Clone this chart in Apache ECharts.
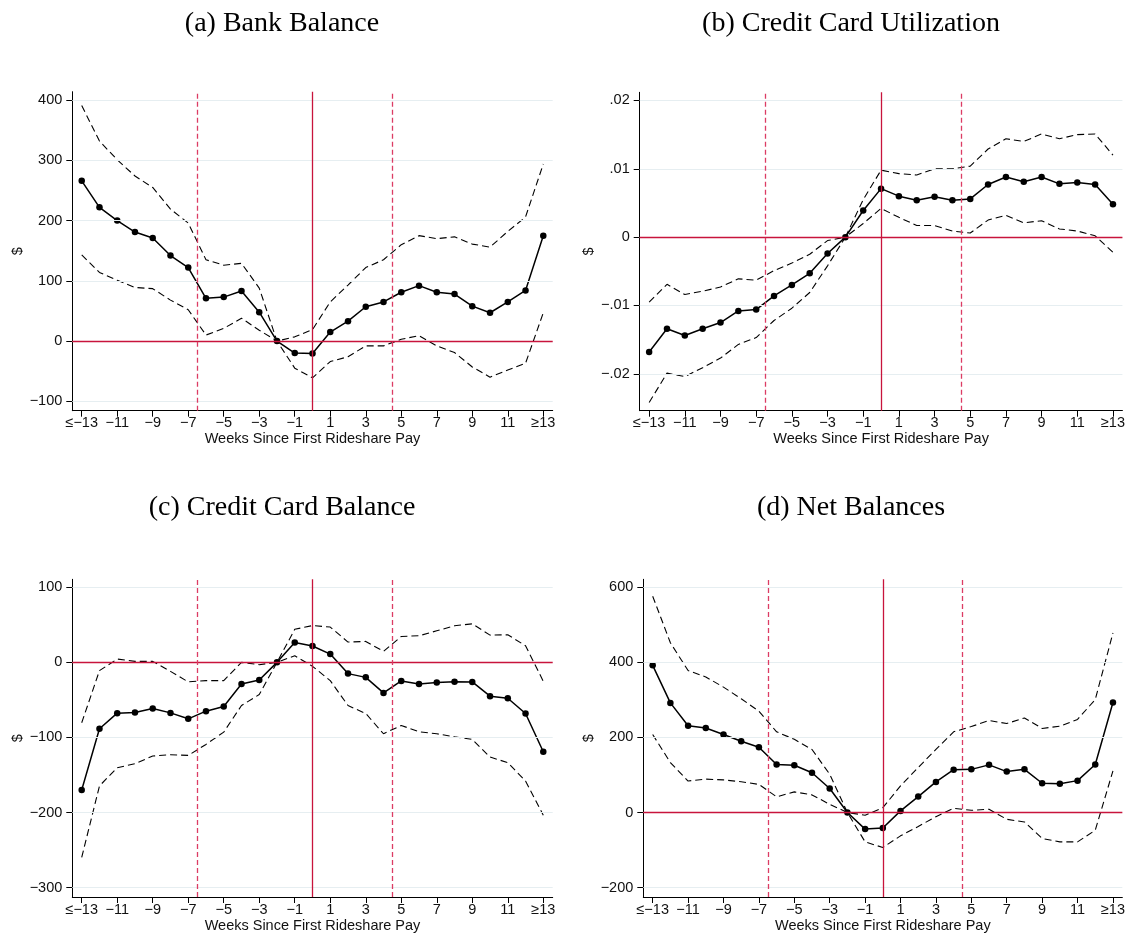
<!DOCTYPE html>
<html><head><meta charset="utf-8">
<script src="https://cdn.jsdelivr.net/npm/echarts@6/dist/echarts.min.js"></script>
<style>html,body{margin:0;padding:0;background:#fff}#c{width:1128px;height:934px}</style>
</head><body><div id="c"></div><script>
// ---- data ----
const weeks = [-13,-12,-11,-10,-9,-8,-7,-6,-5,-4,-3,-2,-1,0,1,2,3,4,5,6,7,8,9,10,11,12,13];
const xTickVals = [-13,-11,-9,-7,-5,-3,-1,1,3,5,7,9,11,13];
const xTickLabels = ['≤−13','−11','−9','−7','−5','−3','−1','1','3','5','7','9','11','≥13'];
const xTitle = 'Weeks Since First Rideshare Pay';
const yTitle = '$';

const titles = ['(a) Bank Balance','(b) Credit Card Utilization','(c) Credit Card Balance','(d) Net Balances'];

// (a) Bank Balance
const bankPoint = [266,222,200,181,171,142,122,71,73,83,48,0,-20,-20.5,15,33,57,65,81,92,81,78,58,47,65,84,175];
const bankUpper = [391,332,301,274,255,219,196,135,126,129,88,0,7,19,65,93,122,135,160,175,170,173,161,156,182,206,294];
const bankLower = [143,114,101,89,87,68,52,10,21,38,18,0,-45,-61,-34,-26,-8,-8,3,9,-8,-19,-43,-60,-48,-37,47];
const bankTicks = [-100,0,100,200,300,400];
const bankTickLabels = ['−100','0','100','200','300','400'];

// (b) Credit Card Utilization
const utilPoint = [-0.0168,-0.0134,-0.0144,-0.0134,-0.0125,-0.0108,-0.0106,-0.0086,-0.0070,-0.0053,-0.0024,0,0.0039,0.0071,0.0060,0.0054,0.0059,0.0054,0.0056,0.0077,0.0088,0.0081,0.0088,0.0078,0.0080,0.0077,0.0048];
const utilUpper = [-0.0095,-0.0069,-0.0084,-0.0079,-0.0073,-0.0061,-0.0063,-0.0049,-0.0038,-0.0025,-0.0005,0,0.0055,0.0098,0.0093,0.0091,0.0100,0.0100,0.0104,0.0129,0.0144,0.0140,0.0151,0.0144,0.0150,0.0151,0.0120];
const utilLower = [-0.0242,-0.0199,-0.0204,-0.0191,-0.0177,-0.0157,-0.0147,-0.0122,-0.0104,-0.0081,-0.0042,0,0.0020,0.0042,0.0029,0.0017,0.0017,0.0009,0.0006,0.0025,0.0032,0.0021,0.0024,0.0012,0.0009,0.0002,-0.0022];
const utilTicks = [-0.02,-0.01,0,0.01,0.02];
const utilTickLabels = ['−.02','−.01','0','.01','.02'];

// (c) Credit Card Balance
const ccPoint = [-170,-88.5,-67.7,-66.8,-61.5,-67.3,-75.2,-65,-58.8,-28.8,-23.5,0,26.5,21.7,11,-15,-20,-40.7,-24.8,-28.8,-27,-25.7,-26.1,-45,-47.8,-68.1,-119];
const ccUpper = [-80.5,-11,4.4,1.3,1.3,-12,-26,-24.3,-24.3,0,-3.1,0,44,49,47,27,27.9,14.6,34.5,35.4,42,48.7,51.3,36.3,36.7,22.1,-25.2];
const ccLower = [-259.7,-164.6,-140.3,-135,-124.8,-123,-123.9,-109.3,-92.9,-57.5,-42.9,0,8.8,-5.3,-24.3,-57.5,-68.1,-95.1,-84,-92.5,-95.1,-99.1,-102.7,-126.1,-133.6,-158,-203.5];
const ccTicks = [-300,-200,-100,0,100];
const ccTickLabels = ['−300','−200','−100','0','100'];

// (d) Net Balances
const netPoint = [392,292,231,225,208,190,174,128,126,106,64,0,-44,-41,4.4,42.5,81.5,114,115,127,109,115,78,77,85,128,293];
const netUpper = [576,452,378,361,334,303,270,215,195,168,102,0,-7,13,71,120,168,215,229,245,237,252,224,230,248,301,478];
const netLower = [208,133,84,89,87,82,75,42,55,47,22,0,-78,-93,-62,-37,-11,11.5,6,9,-18,-25,-69,-78,-78,-47,111];
const netTicks = [-200,0,200,400,600];
const netTickLabels = ['−200','0','200','400','600'];

const refSolidX = 0;
const refDashedX = [-6.5, 4.5];
const refY = 0;

// ---- layout / style ----
const panels = [
  {pt: bankPoint, up: bankUpper, lo: bankLower, ticks: bankTicks, labels: bankTickLabels, min: -115.6, max: 414,
   grid: {left: 72.3, top: 91.7, width: 480.4, height: 319}, nameGap: 46, title: {x: 282, y: 24}},
  {pt: utilPoint, up: utilUpper, lo: utilLower, ticks: utilTicks, labels: utilTickLabels, min: -0.0254, max: 0.0212,
   grid: {left: 639.7, top: 92.3, width: 483.3, height: 318.4}, nameGap: 43.5, title: {x: 851, y: 24}},
  {pt: ccPoint, up: ccUpper, lo: ccLower, ticks: ccTicks, labels: ccTickLabels, min: -312.5, max: 110.6,
   grid: {left: 72.3, top: 579.3, width: 480.4, height: 318.4}, nameGap: 45, title: {x: 282, y: 508}},
  {pt: netPoint, up: netUpper, lo: netLower, ticks: netTicks, labels: netTickLabels, min: -224.8, max: 621,
   grid: {left: 643.3, top: 579.3, width: 480.4, height: 318.4}, nameGap: 45.3, title: {x: 851, y: 508}}
];

const SANS = '"Liberation Sans", Arial, Helvetica, sans-serif';
const SERIF = '"Liberation Serif", "Times New Roman", serif';
const FS = 14.5;
const TFS = 28;
const RED = '#C8143C';
const RED_DASH = '#DC3C64';
const GRID = '#E6EEF1';

function lookup(vals, labels, v) {
  let best = 0, bd = Infinity;
  vals.forEach((t, i) => { const d = Math.abs(t - v); if (d < bd) { bd = d; best = i; } });
  return labels[best];
}
const toXY = arr => weeks.map((w, i) => [w, arr[i]]);

const option = {
  animation: false,
  backgroundColor: '#fff',
  title: panels.map((p, i) => ({
    text: titles[i], left: p.title.x, top: p.title.y - TFS / 2, textAlign: 'center', padding: 0,
    textStyle: {fontFamily: SERIF, fontSize: TFS, lineHeight: TFS, fontWeight: 'normal', color: '#000'}
  })),
  grid: panels.map(p => Object.assign({containLabel: false}, p.grid)),
  xAxis: panels.map((p, i) => ({
    type: 'value', gridIndex: i, min: -13.53, max: 13.53,
    axisLine: {onZero: false, lineStyle: {color: '#000', width: 1}},
    axisTick: {show: true, customValues: xTickVals, length: 6, lineStyle: {color: '#000', width: 1}},
    axisLabel: {customValues: xTickVals, formatter: v => lookup(xTickVals, xTickLabels, v),
      fontFamily: SANS, fontSize: FS, color: '#111', margin: 5},
    splitLine: {show: false},
    name: xTitle, nameLocation: 'middle', nameGap: 21,
    nameTextStyle: {fontFamily: SANS, fontSize: FS, color: '#111'}
  })),
  yAxis: panels.map((p, i) => ({
    type: 'value', gridIndex: i, min: p.min, max: p.max,
    axisLine: {show: true, onZero: false, lineStyle: {color: '#000', width: 1}},
    axisTick: {show: true, customValues: p.ticks, length: 6, lineStyle: {color: '#000', width: 1}},
    axisLabel: {customValues: p.ticks, formatter: v => lookup(p.ticks, p.labels, v),
      fontFamily: SANS, fontSize: FS, color: '#111', margin: 10},
    splitLine: {show: false},
    name: yTitle, nameLocation: 'middle', nameGap: p.nameGap, nameRotate: 90,
    nameTextStyle: {fontFamily: SANS, fontSize: FS, color: '#111'}
  })),
  series: []
};

panels.forEach((p, i) => {
  option.series.push({
    type: 'line', xAxisIndex: i, yAxisIndex: i, data: [], silent: true, z: 1,
    markLine: {
      silent: true, symbol: 'none', animation: false, label: {show: false},
      data: p.ticks.map(t => ({yAxis: t, lineStyle: {color: GRID, width: 1, type: 'solid'}}))
    }
  });
  option.series.push({
    type: 'line', xAxisIndex: i, yAxisIndex: i, data: [], silent: true, z: 2,
    markLine: {
      silent: true, symbol: 'none', animation: false, label: {show: false},
      data: [
        {yAxis: refY, lineStyle: {color: RED, width: 1.3, type: 'solid'}},
        {xAxis: refSolidX, lineStyle: {color: RED, width: 1.3, type: 'solid'}}
      ].concat(refDashedX.map(x => ({xAxis: x, lineStyle: {color: RED_DASH, width: 1.3, type: [5, 3]}})))
    }
  });
  option.series.push({
    type: 'line', xAxisIndex: i, yAxisIndex: i, data: toXY(p.up), z: 3, silent: true,
    showSymbol: false, symbol: 'none', lineStyle: {color: '#000', width: 1.1, type: [7, 4]}
  });
  option.series.push({
    type: 'line', xAxisIndex: i, yAxisIndex: i, data: toXY(p.lo), z: 3, silent: true,
    showSymbol: false, symbol: 'none', lineStyle: {color: '#000', width: 1.1, type: [7, 4]}
  });
  option.series.push({
    type: 'line', xAxisIndex: i, yAxisIndex: i, data: toXY(p.pt), z: 4, silent: true,
    symbol: 'circle', symbolSize: 6.5, showAllSymbol: true,
    itemStyle: {color: '#000'}, lineStyle: {color: '#000', width: 1.5}
  });
});

const chart = echarts.init(document.getElementById('c'), null, {renderer: 'canvas'});
chart.setOption(option);
</script></body></html>
